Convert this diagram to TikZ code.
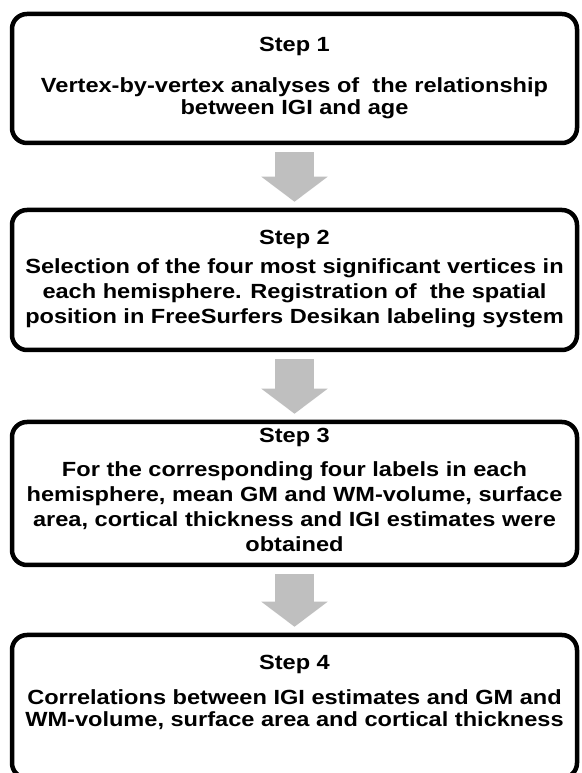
\documentclass[tikz,border=0pt]{standalone}
\usepackage{fontspec}
\setmainfont{Liberation Sans}
\newfontfamily\stepfont[FakeStretch=1.15]{Liberation Sans Bold}
\usetikzlibrary{positioning, arrows.meta}

\tikzset{
  stepbox/.style={rectangle, draw=black, line width=4.5pt, rounded corners=15pt, minimum width=565pt, inner sep=0pt, fill=white},
  steptitle/.style={font=\stepfont\fontsize{20.5}{24}\selectfont, inner sep=0pt, anchor=base},
  steptext/.style={font=\stepfont\fontsize{20.5}{#1}\selectfont, align=center, inner sep=0pt, anchor=base},
  steptext/.default=22,
  flow/.style={black!25, line width=39pt, -{Triangle[length=25pt, width=65pt]}, shorten <=7pt, shorten >=6pt}
}

\begin{document}
\begin{tikzpicture}[x=1pt, y=1pt]
\useasboundingbox (0,0) rectangle (581,773);
\fill[white] (0,0) rectangle (581,773);
\begin{scope}
\clip (0,0) rectangle (581,773);
% the four steps
\node (box1) [stepbox, minimum height=129pt] at (294.5,694.5) {};
\node (box2) [stepbox, minimum height=140pt, below=62.5pt of box1] {};
\node (box3) [stepbox, minimum height=143pt, below=67.5pt of box2] {};
\node (box4) [stepbox, minimum height=143pt, below=65.5pt of box3] {};
% gray arrows between them
\draw [flow] (box1) -- (box2);
\draw [flow] (box2) -- (box3);
\draw [flow] (box3) -- (box4);
\end{scope}
% texts (base = last line)
\node (title1) [steptitle] at ([yshift=-40pt]box1.north) {Step 1};
\node (text1) [steptext] at ([yshift=-63pt]title1.base) {Vertex-by-vertex analyses of\ \ the relationship\\between IGI and age};
\node (title2) [steptitle] at ([yshift=-37pt]box2.north) {Step 2};
\node (text2) [steptext=25] at ([yshift=-79pt]title2.base) {Selection of the four most significant vertices in\\each hemisphere. Registration of\ \ the spatial\\position in FreeSurfers Desikan labeling system};
\node (title3) [steptitle] at ([yshift=-23pt]box3.north) {Step 3};
\node (text3) [steptext=25] at ([yshift=-109pt]title3.base) {For the corresponding four labels in each\\hemisphere, mean GM and WM-volume, surface\\area, cortical thickness and IGI estimates were\\obtained};
\node (title4) [steptitle] at ([yshift=-37pt]box4.north) {Step 4};
\node (text4) [steptext] at ([yshift=-57pt]title4.base) {Correlations between IGI estimates and GM and\\WM-volume, surface area and cortical thickness};
\end{tikzpicture}
\end{document}
